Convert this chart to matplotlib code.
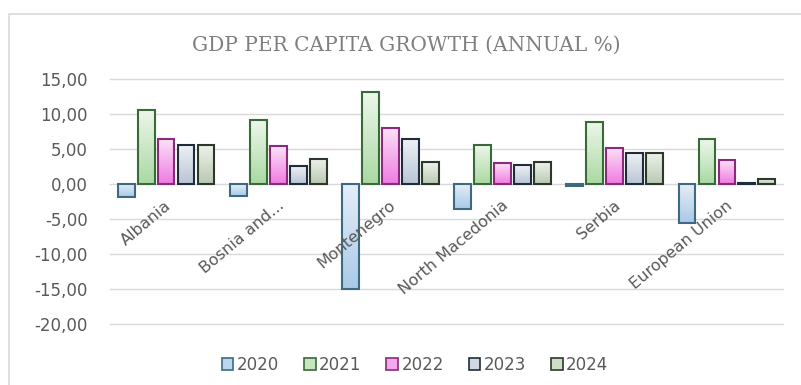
import matplotlib
matplotlib.use("Agg")
import matplotlib.pyplot as plt
import numpy as np
from matplotlib.colors import LinearSegmentedColormap
from matplotlib.patches import Rectangle, Patch

categories = ["Albania", "Bosnia and...", "Montenegro", "North Macedonia", "Serbia", "European Union"]
years = ["2020", "2021", "2022", "2023", "2024"]
v2020 = [-1.9, -1.7, -15.0, -3.6, -0.3, -5.6]
v2021 = [10.6, 9.1, 13.1, 5.6, 8.9, 6.4]
v2022 = [6.4, 5.4, 8.0, 3.0, 5.2, 3.4]
v2023 = [5.6, 2.6, 6.4, 2.7, 4.4, 0.1]
v2024 = [5.6, 3.6, 3.1, 3.1, 4.5, 0.7]
series = [v2020, v2021, v2022, v2023, v2024]
yticks = [15, 10, 5, 0, -5, -10, -15, -20]

tops = ["#e6eef7", "#eef7ec", "#fae2f6", "#eff1f5", "#eff2ec"]
bottoms = ["#a9c9e8", "#a9d9a2", "#f07ae2", "#b9c5d5", "#b9c9b1"]
edges = ["#3d6a80", "#3a6a3a", "#8a2a7a", "#1f2d3a", "#2a3a2a"]
legend_face = ["#bcd6ee", "#c6e6c0", "#f5a8ec", "#d0d8e2", "#cfdcc8"]

W, H = 801, 385
fig = plt.figure(figsize=(W / 100, H / 100), dpi=100)
fig.patch.set_facecolor("white")

# outer chart border
fig.add_artist(Rectangle((9 / W, -0.05), 1.1, 1 - 14 / H + 0.05, transform=fig.transFigure,
                         fill=False, edgecolor="#d9d9d9", linewidth=1.2))

ax = fig.add_axes([110 / W, 1 - 324 / H, (783 - 110) / W, (324 - 79) / H])
ax.set_facecolor("none")

n = len(categories)
x = np.arange(n)
step = 0.178
bw = 0.15
grad = np.linspace(0, 1, 256).reshape(-1, 1)
for k, vals in enumerate(series):
    cmap = LinearSegmentedColormap.from_list("g%d" % k, [bottoms[k], tops[k]])
    bars = ax.bar(x + (k - 2) * step, vals, width=bw, facecolor="none",
                  edgecolor=edges[k], linewidth=1.5, zorder=3)
    for b in bars:
        x0, y0 = b.get_x(), b.get_y()
        w, h = b.get_width(), b.get_height()
        ylo, yhi = min(y0, y0 + h), max(y0, y0 + h)
        im = ax.imshow(grad, extent=[x0, x0 + w, ylo, yhi], origin="lower",
                       cmap=cmap, aspect="auto", zorder=2, interpolation="bilinear")
        im.set_clip_path(b)

ax.set_xlim(-0.5, n - 0.5)
ax.set_ylim(-20, 15)
ax.set_yticks(yticks)
ax.set_yticklabels([("%.2f" % t).replace(".", ",") for t in yticks])
ax.yaxis.grid(True, color="#d9d9d9", linewidth=1.0, zorder=0)
for gl in ax.get_ygridlines():
    gl.set_clip_on(False)
ax.set_axisbelow(True)
ax.set_xticks([])
for s in ax.spines.values():
    s.set_visible(False)
ax.tick_params(axis="y", length=0, pad=16, labelsize=12, labelcolor="#595959")

for i, c in enumerate(categories):
    ax.annotate(c, xy=(i, 0), xytext=(-1, -10), textcoords="offset points",
                ha="right", va="top", rotation=40, rotation_mode="anchor",
                fontsize=11.5, color="#595959", zorder=4)

fig.text(406 / W, 1 - 45 / H, "GDP PER CAPITA GROWTH (ANNUAL %)", ha="center", va="center",
         fontsize=14.5, color="#7f7f7f", family="DejaVu Serif")

handles = [Patch(facecolor=legend_face[k], edgecolor=edges[k], linewidth=1.2) for k in range(5)]
fig.legend(handles, years, loc="center", bbox_to_anchor=(415 / W, 1 - 365 / H), ncol=5,
           frameon=False, fontsize=12, labelcolor="#595959", handlelength=0.7,
           handleheight=0.7, handletextpad=0.2, columnspacing=1.5)

fig.savefig("out.png", dpi=100, facecolor="white")
